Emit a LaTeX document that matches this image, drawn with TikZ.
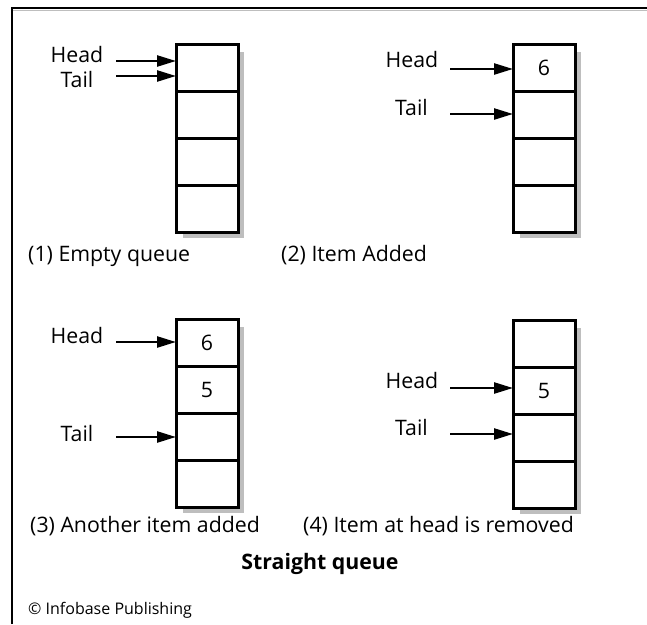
\documentclass[tikz,border=0pt]{standalone}
\usepackage{fontspec}
\setmainfont{Open Sans}
\usetikzlibrary{arrows.meta,calc}
\definecolor{shadowgray}{HTML}{BEBEBE}
\definecolor{ink}{HTML}{000000}
\newcommand\qfont{\fontsize{21.3}{25}\selectfont}
\tikzset{
  cell/.style={draw=ink,line width=3pt,fill=white,minimum width=62pt,minimum height=47pt,
               inner sep=0pt,outer sep=0pt,font=\qfont},
  ptr/.style={ink,line width=2.4pt,-{Triangle[length=19pt,width=11pt]}},
  lbl/.style={anchor=base,inner sep=0pt,font=\qfont},
  captext/.style={anchor=base west,inner sep=0pt,font=\qfont},
}
\begin{document}
\begin{tikzpicture}[x=1pt,y=-1pt]
  \useasboundingbox (0,0) rectangle (647,624);
  % frame
  \draw[shadowgray,line width=1pt] (13,10) -- (647,10);
  \draw[ink,line width=1.8pt] (12,624) |- (647,8);
  % (1) empty queue
  \begin{scope}[shift={(176,44)}]
    \fill[shadowgray] (7,8) rectangle (68,194);
    \foreach \i/\v in {1/,2/,3/,4/}{
      \node[cell] (e\i) at (31,{47*\i-23.5}) {\v};
    }
    \node[lbl] (ehl) at (-99,18.7) {Head};
    \node[lbl] (etl) at (-99,43) {Tail};
    \coordinate (ehp) at (-60,17);
    \coordinate (etp) at (-60,32);
    \draw[ptr] (ehp) -- (ehp -| e1.west);
    \draw[ptr] (etp) -- (etp -| e1.west);
  \end{scope}
  % (2) item added
  \begin{scope}[shift={(513,44)}]
    \fill[shadowgray] (7,8) rectangle (68,194);
    \foreach \i/\v in {1/6,2/,3/,4/}{
      \node[cell] (a\i) at (31,{47*\i-23.5}) {\v};
    }
    \node[lbl] (ahl) at (-101,23) {Head};
    \node[lbl] (atl) at (-101.5,71) {Tail};
    \coordinate (ahp) at (-63,25);
    \coordinate (atp) at (-63,70);
    \draw[ptr] (ahp) -- (ahp -| a1.west);
    \draw[ptr] (atp) -- (atp -| a2.west);
  \end{scope}
  % (3) another item added
  \begin{scope}[shift={(176,319)}]
    \fill[shadowgray] (7,8) rectangle (68,194);
    \foreach \i/\v in {1/6,2/5,3/,4/}{
      \node[cell] (n\i) at (31,{47*\i-23.5}) {\v};
    }
    \node[lbl] (nhl) at (-99,24) {Head};
    \node[lbl] (ntl) at (-99,122) {Tail};
    \coordinate (nhp) at (-60,23);
    \coordinate (ntp) at (-60,118);
    \draw[ptr] (nhp) -- (nhp -| n1.west);
    \draw[ptr] (ntp) -- (ntp -| n3.west);
  \end{scope}
  % (4) item at head is removed
  \begin{scope}[shift={(513,320)}]
    \fill[shadowgray] (7,8) rectangle (68,194);
    \foreach \i/\v in {1/,2/5,3/,4/}{
      \node[cell] (r\i) at (31,{47*\i-23.5}) {\v};
    }
    \node[lbl] (rhl) at (-101,68) {Head};
    \node[lbl] (rtl) at (-101.5,115) {Tail};
    \coordinate (rhp) at (-63,68);
    \coordinate (rtp) at (-63,114);
    \draw[ptr] (rhp) -- (rhp -| r2.west);
    \draw[ptr] (rtp) -- (rtp -| r3.west);
  \end{scope}
  % captions
  \node[captext] (c1) at (28,261) {(1) Empty queue};
  \node[captext] (c2) at (281,261) {(2) Item Added};
  \node[captext] (c3) at (30,532) {(3) Another item added};
  \node[captext] (c4) at (303,532) {(4) Item at head is removed};
  \node[lbl,font=\qfont\bfseries] (title) at (320,569) {Straight queue};
  \node[captext,font=\fontsize{16}{19}\selectfont] (copy) at (28,614) {© Infobase Publishing};
\end{tikzpicture}
\end{document}
